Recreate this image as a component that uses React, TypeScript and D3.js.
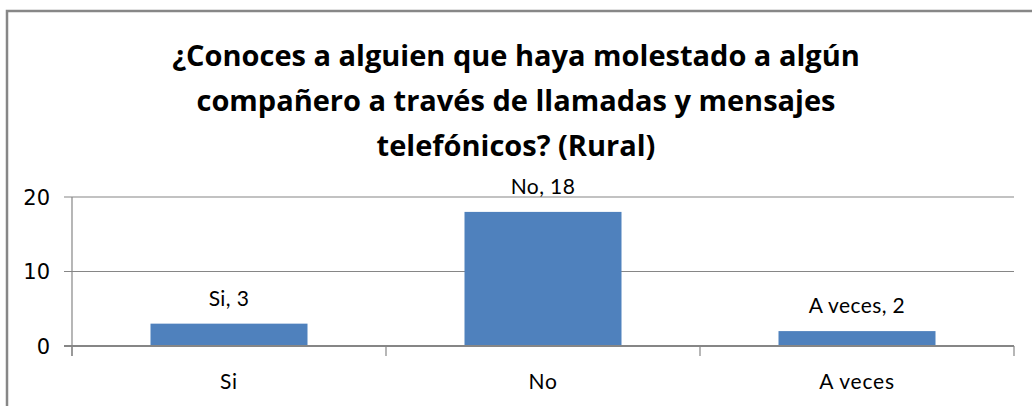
import * as d3 from 'd3'

const categories = ['Si', 'No', 'A veces']
const values = [3, 18, 2]
const yTicks = [0, 10, 20]
const titleLines = [
  '¿Conoces a alguien que haya molestado a algún',
  'compañero a través de llamadas y mensajes',
  'telefónicos? (Rural)',
]

const W = 1032
const H = 406
const plot = { left: 72, right: 1014, top: 197, bottom: 346 }
const font = 'Lato, Carlito, Calibri, "Open Sans", sans-serif'

export default function App() {
  const x = d3.scaleBand<string>()
    .domain(categories)
    .range([plot.left, plot.right])
    .paddingInner(0.5)
    .paddingOuter(0.25)

  const y = d3.scaleLinear().domain([0, 20]).range([plot.bottom, plot.top])

  const step = (plot.right - plot.left) / categories.length

  return (
    <svg width={W} height={H} style={{ position: 'absolute', left: 0, top: 0, background: '#fff' }}>
      <rect x={7} y={11} width={W + 10} height={H + 10} fill="#fff" stroke="#878787" strokeWidth={2.5} />

      {titleLines.map((t, i) => (
        <text key={i} x={516} y={66 + i * 45} textAnchor="middle" fontFamily='"Open Sans", Lato, sans-serif'
          fontWeight="bold" fontSize={29} fill="#000">{t}</text>
      ))}

      {/* gridlines + y ticks */}
      {yTicks.map(t => (
        <g key={t}>
          <line x1={64} x2={plot.right} y1={y(t)} y2={y(t)} stroke="#868686"
            strokeWidth={t === 0 ? 2 : 1.2} />
          <text x={50} y={y(t)} dy="0.36em" textAnchor="end" fontFamily="'DejaVu Sans', Verdana, sans-serif"
            fontSize={21} fill="#000">{t}</text>
        </g>
      ))}

      {/* y axis */}
      <line x1={plot.left} x2={plot.left} y1={plot.top} y2={plot.bottom + 10} stroke="#868686" strokeWidth={1.2} />

      {/* x ticks */}
      {d3.range(categories.length + 1).map(i => (
        <line key={i} x1={plot.left + i * step} x2={plot.left + i * step} y1={plot.bottom}
          y2={plot.bottom + 10} stroke="#868686" strokeWidth={1.2} />
      ))}

      {/* bars */}
      {categories.map((c, i) => (
        <rect key={c} x={x(c)} y={y(values[i])} width={x.bandwidth()} height={plot.bottom - y(values[i])}
          fill="#4F81BD" />
      ))}
      <line x1={plot.left} x2={plot.right} y1={plot.bottom} y2={plot.bottom} stroke="#868686" strokeWidth={2} />

      {/* data labels */}
      {categories.map((c, i) => (
        <text key={c} x={(x(c) || 0) + x.bandwidth() / 2} y={y(values[i]) - 18} textAnchor="middle"
          fontFamily={font} fontSize={21} letterSpacing={0.4} fill="#000">{`${c}, ${values[i]}`}</text>
      ))}

      {/* category labels */}
      {categories.map(c => (
        <text key={c} x={(x(c) || 0) + x.bandwidth() / 2} y={389} textAnchor="middle"
          fontFamily={font} fontSize={21} letterSpacing={0.8} fill="#000">{c}</text>
      ))}
    </svg>
  )
}
